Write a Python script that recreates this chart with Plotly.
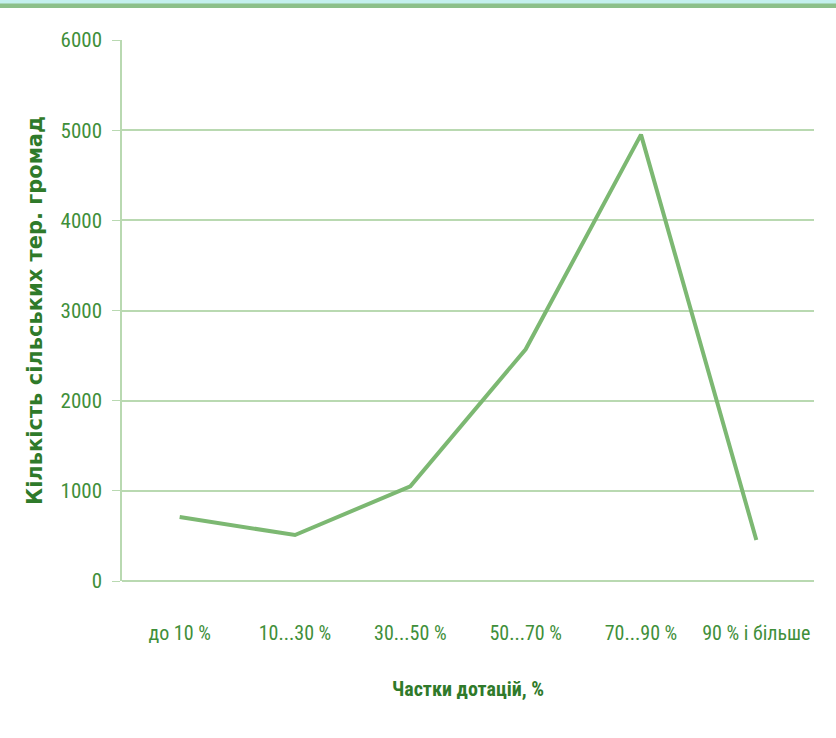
import plotly.graph_objects as go

categories = ["до 10 %", "10...30 %", "30...50 %", "50...70 %", "70...90 %", "90 % і більше"]
values = [710, 510, 1050, 2570, 4950, 455]
y_ticks = [0, 1000, 2000, 3000, 4000, 5000, 6000]

font_family = "Liberation Sans Narrow, Arial Narrow, Roboto Condensed, Liberation Sans, sans-serif"
tick_color = "#3f8f3a"
title_color = "#2f7a2a"
grid_color = "#b9d9b1"

fig = go.Figure()
fig.add_trace(go.Scatter(
    x=categories, y=values, mode="lines",
    line=dict(color="#7cb872", width=4),
    hoverinfo="x+y",
))

fig.update_layout(
    width=836, height=738,
    margin=dict(l=122, r=22, t=40, b=157),
    paper_bgcolor="white", plot_bgcolor="white",
    showlegend=False,
    font=dict(family=font_family),
    xaxis=dict(
        type="category", range=[-0.5, 5.5],
        showgrid=False, showline=False, zeroline=False,
        ticks="", tickfont=dict(size=20, color=tick_color),
        ticklabelstandoff=38,
        title=dict(text="<b>Частки дотацій, %</b>", font=dict(size=20, color=title_color), standoff=37),
    ),
    yaxis=dict(
        range=[0, 6000], tickvals=y_ticks,
        showgrid=True, gridcolor=grid_color, gridwidth=2,
        showline=True, linecolor=grid_color, linewidth=1.5,
        zeroline=True, zerolinecolor=grid_color, zerolinewidth=2,
        ticks="outside", ticklen=8, tickcolor=grid_color,
        ticklabelstandoff=6,
        tickfont=dict(size=21, color=tick_color),
        title=dict(text="<b>Кількість сільських тер. громад</b>",
                   font=dict(size=21, color=title_color, family="DejaVu Sans, Verdana, sans-serif"),
                   standoff=12),
    ),
    shapes=[
        dict(type="rect", xref="paper", yref="paper", x0=-0.2, x1=1.1,
             y0=1 + 36/541, y1=1 + 40/541, fillcolor="#c4f0ee", line=dict(width=0), layer="above"),
        dict(type="rect", xref="paper", yref="paper", x0=-0.2, x1=1.1,
             y0=1 + 32/541, y1=1 + 36.5/541, fillcolor="#8cc08a", line=dict(width=0), layer="above"),
    ],
)

fig.write_html("out.html", config={"displayModeBar": False},
               post_script="document.body.style.margin='0';document.body.style.overflow='hidden';")
